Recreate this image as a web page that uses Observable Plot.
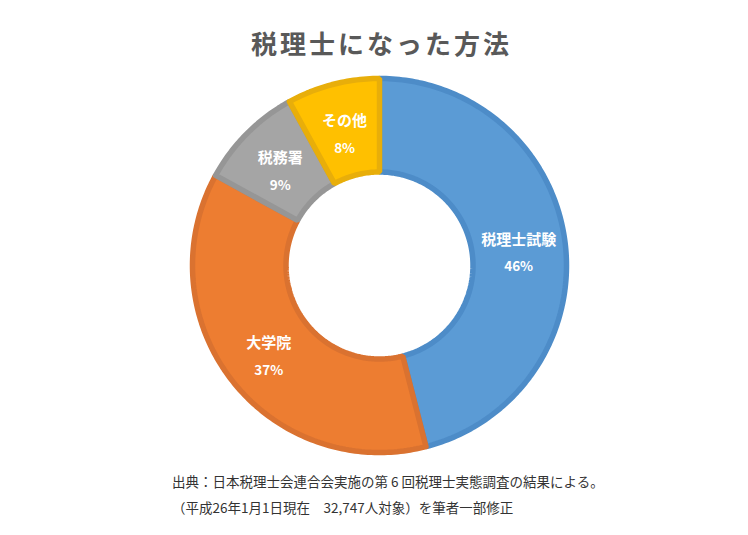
<!DOCTYPE html>
<html><head><meta charset="utf-8">
<script src="https://cdn.jsdelivr.net/npm/d3@7"></script>
<script src="https://cdn.jsdelivr.net/npm/@observablehq/plot@0.6"></script>
<style>
body{margin:0;background:#fff;font-family:"Noto Sans CJK JP","Noto Sans",sans-serif;}
#wrap{position:relative;width:748px;height:535px;overflow:hidden;}
#title{position:absolute;left:0;width:763px;top:27px;text-align:center;font-size:26px;font-weight:bold;color:#595959;letter-spacing:3px;line-height:32px;}
#chart{position:absolute;left:0;top:70px;}
.cap{position:absolute;font-size:13.5px;color:#333;line-height:18px;white-space:pre;}
</style></head><body>
<div id="wrap">
<div id="title">税理士になった方法</div>
<div id="chart"></div>
<div class="cap" style="left:172px;top:472px;">出典：日本税理士会連合会実施の第 6 回税理士実態調査の結果による。</div>
<div class="cap" style="left:172px;top:498px;">（平成26年1月1日現在　32,747人対象）を筆者一部修正</div>
</div>
<script>
const categories = ["税理士試験", "大学院", "税務署", "その他"];
const shares = [46, 37, 9, 8];
const fills = ["#5B9BD5", "#ED7D31", "#A5A5A5", "#FFC000"];
const strokes = ["#4D8CC8", "#DA7230", "#969696", "#E8AE0A"];
const innerRatio = 0.5;

const total = d3.sum(shares);
const slices = [];
const pts = [];
let acc = 0;
categories.forEach((name, i) => {
  const a0 = acc / total * 2 * Math.PI;
  acc += shares[i];
  const a1 = acc / total * 2 * Math.PI;
  const n = Math.max(4, Math.ceil((a1 - a0) / (Math.PI / 180)));
  const ring = [];
  for (let k = 0; k <= n; k++) { const a = a0 + (a1 - a0) * k / n; ring.push([Math.sin(a), Math.cos(a)]); }
  for (let k = n; k >= 0; k--) { const a = a0 + (a1 - a0) * k / n; ring.push([innerRatio * Math.sin(a), innerRatio * Math.cos(a)]); }
  ring.push(ring[0]);
  ring.forEach(([x, y]) => pts.push({name, x, y, fill: fills[i], stroke: strokes[i]}));
  const am = (a0 + a1) / 2, rm = (1 + innerRatio) / 2;
  slices.push({name, pct: shares[i] + "%", x: rm * Math.sin(am), y: rm * Math.cos(am)});
});

const chart = Plot.plot({
  width: 748, height: 390,
  marginLeft: 192, marginRight: 182, marginTop: 8, marginBottom: 8,
  x: {domain: [-1, 1], axis: null},
  y: {domain: [-1, 1], axis: null},
  color: {type: "identity"},
  style: {fontFamily: '"Noto Sans CJK JP", sans-serif', background: "transparent"},
  marks: [
    Plot.line(pts, {x: "x", y: "y", z: "name", fill: "fill", stroke: "stroke", strokeWidth: 5.5, strokeLinejoin: "miter", curve: "linear"}),
    Plot.text(slices, {x: "x", y: "y", text: "name", dy: -8, fill: "white", fontWeight: "bold", fontSize: 15}),
    Plot.text(slices, {x: "x", y: "y", text: "pct", dy: 19, fill: "white", fontWeight: "bold", fontSize: 13.5})
  ]
});
document.getElementById("chart").appendChild(chart);
</script>
</body></html>
